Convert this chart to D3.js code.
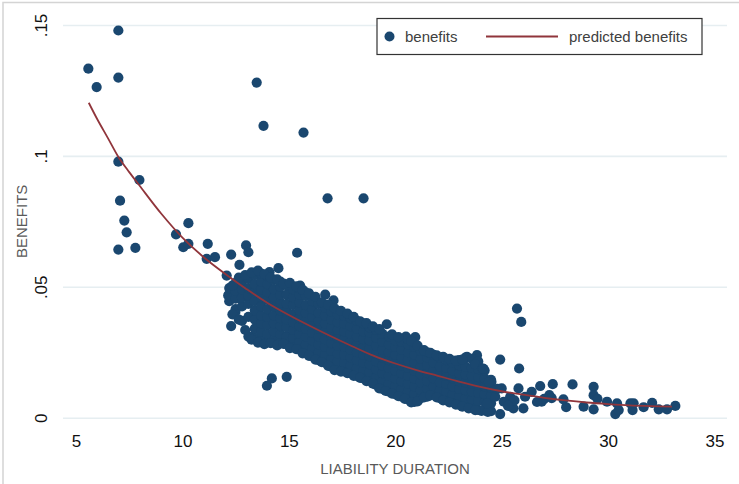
<!DOCTYPE html>
<html><head><meta charset="utf-8">
<script src="https://cdn.jsdelivr.net/npm/d3@7"></script>
<style>body{margin:0;background:#fff}svg{display:block}</style>
</head><body><svg id="c" width="739" height="484"></svg>
<script>
const xTicks = [5, 10, 15, 20, 25, 30, 35];
const yTicks = [0, 0.05, 0.1, 0.15];
const yTickLabels = ["0", ".05", ".1", ".15"];
const xTitle = "LIABILITY DURATION";
const yTitle = "BENEFITS";
const legendLabels = ["benefits", "predicted benefits"];

// scattered points [duration, benefits]
const outlierPoints = [
  [5.58,.1333],[5.97,.1263],[6.99,.1479],[6.99,.1299],[6.99,.0978],[7.98,.0908],
  [7.07,.0829],[7.27,.0753],[7.38,.0708],[6.99,.0642],[7.79,.0649],[9.7,.0700],
  [10.28,.0743],[10.04,.0651],[10.28,.0664],[11.19,.0664],[11.14,.0607],[11.53,.0613],
  [13.49,.1280],[13.81,.1115],[15.69,.1089],[16.82,.0838],[18.51,.0838],
  [12.29,.0623],[12.99,.0658],[13.1,.0632],[15.39,.0630],[12.68,.0584],[12.08,.0543],
  [12.49,.0404],[12.29,.0350],[13.97,.0122],[14.2,.0150],[14.9,.0156],[14.51,.0571],
  [14.09,.0556],[16.71,.0470],[17.69,.0395],[17.1,.0448],[12.15,.0467],[12.7,.0456],
  [13.4,.0385],[13.18,.0309],[15.53,.0505],[15.77,.0480],
  [19.6,.0357],[20.94,.0308],[20.5,.0310],[23.37,.0232],[23.84,.0239]
];
// dense cloud, by duration column: [duration, [benefits...]]
const coreColumns = [
  [12.2,[.0445,.047,.0495]],
  [12.5,[.0415,.0455,.0485,.0515]],
  [12.8,[.037,.0425,.046,.049,.052]],
  [13.1,[.031,.0385,.0435,.0465,.0495,.053]],
  [13.4,[.0305,.034,.0375,.041,.0445,.048,.051,.0545]],
  [13.7,[.0295,.033,.036,.039,.0425,.046,.049,.052,.055]],
  [14.0,[.029,.032,.0355,.0385,.0415,.045,.048,.051,.054]],
  [14.3,[.0295,.033,.036,.039,.0425,.046,.049,.0525]],
  [14.6,[.029,.032,.035,.038,.041,.044,.047,.050,.052]],
  [14.9,[.028,.031,.0345,.0375,.0405,.0435,.047,.0505]],
  [15.2,[.0275,.0305,.0335,.0365,.0395,.043,.046,.049]],
  [15.5,[.026,.029,.032,.035,.038,.041,.044,.047,.0495]],
  [15.8,[.025,.028,.031,.034,.037,.040,.043,.0465]],
  [16.1,[.0235,.0265,.0295,.0325,.0355,.0385,.0415,.0445]],
  [16.4,[.022,.025,.028,.031,.034,.037,.040,.0435]],
  [16.7,[.021,.024,.027,.030,.033,.036,.039,.042]],
  [17.0,[.0195,.0225,.0255,.0285,.0315,.0345,.0375,.0405,.043]],
  [17.3,[.0185,.0215,.0245,.0275,.0305,.0335,.0365,.0395]],
  [17.6,[.018,.021,.024,.027,.030,.033,.036,.039]],
  [17.9,[.017,.020,.023,.026,.029,.032,.035,.038]],
  [18.2,[.016,.019,.022,.025,.028,.031,.034,.037]],
  [18.5,[.015,.018,.021,.024,.027,.030,.033,.036]],
  [18.8,[.0145,.0175,.0205,.0235,.0265,.0295,.0325,.0345]],
  [19.1,[.0125,.0155,.0185,.0215,.0245,.0275,.0305,.0335]],
  [19.4,[.011,.014,.017,.020,.023,.026,.029,.032]],
  [19.7,[.010,.013,.016,.019,.022,.025,.028,.031]],
  [20.0,[.009,.012,.015,.018,.021,.024,.027,.0295]],
  [20.3,[.008,.011,.014,.017,.020,.023,.026,.029]],
  [20.6,[.007,.010,.013,.016,.019,.022,.025,.028,.030]],
  [20.9,[.006,.009,.012,.015,.018,.021,.024,.027]],
  [21.2,[.0075,.0105,.0135,.0165,.0195,.0225,.0255]],
  [21.5,[.008,.011,.014,.017,.020,.023,.025]],
  [21.8,[.009,.012,.015,.018,.021,.024]],
  [22.1,[.0075,.0105,.0135,.0165,.0195,.023]],
  [22.4,[.007,.010,.013,.016,.019,.022]],
  [22.7,[.006,.009,.012,.015,.018,.021]],
  [23.0,[.005,.008,.011,.014,.017,.020,.022]],
  [23.3,[.0045,.0075,.0105,.0135,.0165,.0195,.023]],
  [23.6,[.004,.007,.010,.013,.016,.019,.0225]],
  [23.9,[.003,.0065,.0095,.0125,.0155,.0185,.0215]],
  [24.2,[.003,.006,.009,.012,.015,.018]],
  [24.5,[.0025,.0055,.0085,.0115,.0145]]
];
// irregular points along the upper and lower rims of the cloud
const rimPoints = [
  [12.35,.0505],[12.65,.0535],[12.95,.0545],[13.25,.0555],[13.55,.0562],[13.85,.0548],
  [14.15,.0535],[14.45,.0528],[14.75,.0512],[15.05,.0515],[15.35,.0502],[15.65,.0488],
  [15.95,.0475],[16.25,.0462],[16.55,.0441],[16.85,.0432],[17.15,.0418],[17.45,.0408],
  [17.75,.0398],[18.05,.0385],[18.35,.0368],[18.65,.0361],[18.95,.0349],[19.25,.0338],
  [19.85,.0318],[20.15,.0308],[20.75,.0292],[21.05,.0275],[21.35,.0258],[21.65,.0248],
  [21.95,.0238],[22.25,.0232],[22.55,.0225],[22.85,.0218],[23.15,.0222],[23.75,.0205],
  [12.35,.0395],[12.65,.0375],[12.95,.0335],[13.25,.0298],[13.55,.0287],[13.85,.0281],
  [14.15,.0285],[14.45,.0276],[14.75,.0282],[15.05,.0266],[15.35,.0262],[15.65,.0246],
  [15.95,.0236],[16.25,.0222],[16.55,.0212],[16.85,.0198],[17.15,.0182],[17.45,.0176],
  [17.75,.0170],[18.05,.0160],[18.35,.0152],[18.65,.0140],[18.95,.0130],[19.25,.0112],
  [19.55,.0102],[19.85,.0092],[20.15,.0082],[20.45,.0072],[20.75,.0058],[21.05,.0062],
  [21.35,.0078],[21.65,.0085],[21.95,.0078],[22.25,.0066],[22.55,.0058],[22.85,.0050],
  [23.15,.0042],[23.45,.0036],[24.05,.0026],[24.35,.0022]
];
const tailPoints = [
  [24.93,.0222],[25.82,.0188],[26.81,.0121],[27.4,.0128],[28.33,.0127],[29.32,.0118],
  [29.32,.0086],[29.95,.0061],[30.42,.0055],[30.34,.0014],[30.5,.0029],[31.05,.0055],
  [31.2,.0055],[31.15,.0029],[31.67,.0040],[32.07,.0057],[32.38,.0032],[32.77,.0032],
  [33.16,.0045],[29.32,.0032],[28.85,.0042],[28.03,.0040],[27.9,.0070],[27.24,.0086],
  [26.88,.0061],[26.41,.0099],[26.1,.0080],[25.79,.0112],[26.02,.0036],[25.55,.0036],
  [24.93,.0014],[25.0,.0112],[25.4,.0080],[24.52,.0137],[24.1,.0188],[23.76,.0029],
  [24.31,.0055],[25.1,.0061],[24.7,.0080],[25.72,.0417],[25.92,.0366],[27.0,.0072],
  [26.66,.0060],[25.6,.0066],[25.3,.0045],[29.5,.0072],[27.35,.0075],[24.8,.0110],
  [24.4,.0136],[24.15,.0187]
];
// predicted benefits curve
const predDuration = [5.6,6,6.5,7,7.5,8,9,10,11,12,13,14,15,16,17,18,19,20,21,22,23,24,25,26,27,28,29,30,31,32,33];
const predBenefits = [.1203,.1140,.1068,.0995,.0938,.0885,.0780,.0688,.0613,.0550,.0492,.0438,.0392,.0350,.0310,.0272,.0236,.0207,.0182,.0160,.0138,.0118,.0101,.0088,.0076,.0066,.0058,.0052,.0047,.0044,.0042];

const dotColor = "#1a476f", lineColor = "#90353b", gridColor = "#e6eef1";
const font = "'Liberation Sans', Arial, sans-serif";

const points = outlierPoints.concat(
  coreColumns.flatMap(([d, ys]) => ys.map(v => [d, v])),
  rimPoints, tailPoints);

const svg = d3.select("#c");
const x = d3.scaleLinear().domain([5, 35]).range([76, 714.5]);
const y = d3.scaleLinear().domain([0, 0.15]).range([417.7, 25]);
const gridLeft = 63, gridRight = 727;

// outer frame (left and top edges visible)
svg.append("path").attr("d", `M3,484V2.5H739`).attr("fill", "none")
  .attr("stroke", "#d4d4d4").attr("stroke-width", 1.5);

// y axis with grid
const gy = svg.append("g").attr("transform", `translate(${gridLeft},0)`)
  .call(d3.axisLeft(y).tickValues(yTicks)
    .tickFormat((d, i) => yTickLabels[i]).tickSize(-(gridRight - gridLeft)));
gy.select(".domain").remove();
gy.selectAll(".tick line").attr("stroke", gridColor).attr("stroke-width", 1.6);
gy.selectAll(".tick text").attr("x", null).attr("dy", null)
  .attr("transform", "translate(-16,0) rotate(-90)")
  .attr("text-anchor", "middle").attr("fill", "#111")
  .style("font-family", font).style("font-size", "17px");

// x axis
const gx = svg.append("g").attr("transform", `translate(0,${y(0)})`)
  .call(d3.axisBottom(x).tickValues(xTicks).tickSize(0).tickPadding(17));
gx.select(".domain").remove();
gx.selectAll(".tick text").attr("fill", "#111")
  .style("font-family", font).style("font-size", "17px");

// titles
svg.append("text").attr("x", (gridLeft + gridRight) / 2).attr("y", 473.5)
  .attr("text-anchor", "middle").attr("fill", "#595959")
  .style("font-family", font).style("font-size", "15px").text(xTitle);
svg.append("text").attr("transform", `translate(26.5,${(y(0) + y(0.15)) / 2}) rotate(-90)`)
  .attr("text-anchor", "middle").attr("fill", "#595959")
  .style("font-family", font).style("font-size", "15px").text(yTitle);

// points
svg.append("g").selectAll("circle").data(points).join("circle")
  .attr("cx", d => x(d[0])).attr("cy", d => y(d[1])).attr("r", 5.1)
  .attr("fill", dotColor);

// predicted line
const line = d3.line().x(d => x(d[0])).y(d => y(d[1])).curve(d3.curveCatmullRom);
svg.append("path").datum(predDuration.map((d, i) => [d, predBenefits[i]]))
  .attr("d", line).attr("fill", "none").attr("stroke", lineColor).attr("stroke-width", 1.8);

// legend
const lg = svg.append("g");
lg.append("rect").attr("x", 377).attr("y", 18.5).attr("width", 325).attr("height", 36)
  .attr("fill", "#fff").attr("stroke", "#333").attr("stroke-width", 1.2);
lg.append("circle").attr("cx", 389.5).attr("cy", 36.5).attr("r", 5).attr("fill", dotColor);
lg.append("text").attr("x", 405).attr("y", 42).attr("fill", "#404040")
  .style("font-family", font).style("font-size", "15px").text(legendLabels[0]);
lg.append("line").attr("x1", 486).attr("x2", 558).attr("y1", 36.5).attr("y2", 36.5)
  .attr("stroke", lineColor).attr("stroke-width", 2);
lg.append("text").attr("x", 569).attr("y", 42).attr("fill", "#404040")
  .style("font-family", font).style("font-size", "15px").text(legendLabels[1]);
</script></body></html>
